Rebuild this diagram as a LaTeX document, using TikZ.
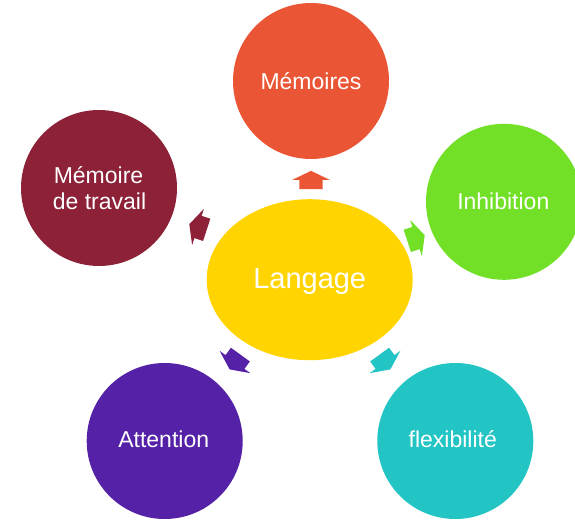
\documentclass[tikz,border=0pt]{standalone}
\usepackage{fontspec}
\setmainfont{Liberation Sans}
\usetikzlibrary{shapes.geometric}
\definecolor{cMem}{HTML}{EA5635}
\definecolor{cMdt}{HTML}{8C2138}
\definecolor{cInh}{HTML}{72E026}
\definecolor{cAtt}{HTML}{5521A6}
\definecolor{cFlx}{HTML}{22C4C4}
\definecolor{cLan}{HTML}{FFD400}
\tikzset{
  circ/.style={circle, minimum size=156pt, inner sep=0pt, draw=none},
  txt/.style={text=white, font=\fontsize{23}{27}\selectfont, inner sep=0pt, anchor=base},
  blockarr/.pic={\fill[#1] (-9.15,-11.7) -- (0,-11.7) -- (0,-19) -- (9.15,0) -- (0,19) -- (0,11.7) -- (-9.15,11.7) -- cycle;}
}
\begin{document}
\begin{tikzpicture}[x=1pt,y=1pt]
\useasboundingbox (0,0) rectangle (575,520);
% center
\node[ellipse, minimum width=206pt, minimum height=161pt, inner sep=0pt, fill=cLan] (lan) at (309.7,240.3) {};
\node[text=white, font=\fontsize{29}{34}\selectfont, inner sep=0pt, anchor=base] (lanT) at (309.7,231.7) {Langage};
% circles
\node[circ, fill=cMem] (mem) at (311,439) {};
\node[txt] (memT) at (311,430.7) {Mémoires};
\node[circ, fill=cMdt] (mdt) at (99,332) {};
\node[txt] (mdtT1) at (98.5,336.7) {Mémoire};
\node[txt] (mdtT2) at (99.5,310) {de travail};
\node[circ, fill=cInh] (inh) at (504,318.2) {};
\node[txt] (inhT) at (503.3,310) {Inhibition};
\node[circ, fill=cAtt] (att) at (164.7,79) {};
\node[txt] (attT) at (163.7,72.7) {Attention};
\node[circ, fill=cFlx] (flx) at (455.3,79) {};
\node[txt] (flxT) at (452.8,72.7) {flexibilité};
% arrows
\pic[rotate=90] at (311,340) {blockarr=cMem};
\pic[rotate=162] at (198,293) {blockarr=cMdt};
\pic[rotate=18] at (416,282) {blockarr=cInh};
\pic[rotate=-126] at (235,158) {blockarr=cAtt};
\pic[rotate=-54] at (385,158) {blockarr=cFlx};
\end{tikzpicture}
\end{document}
